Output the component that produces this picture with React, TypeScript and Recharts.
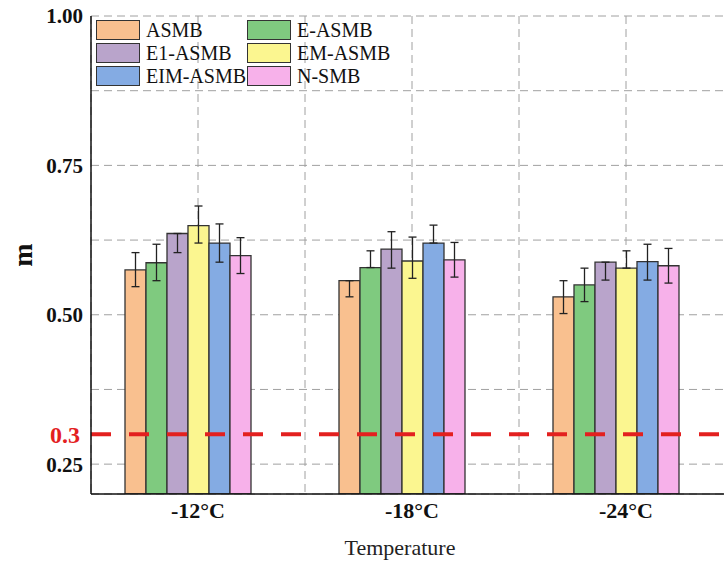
import React from "react";
import {
  BarChart,
  Bar,
  XAxis,
  YAxis,
  CartesianGrid,
  ReferenceLine,
  ErrorBar,
  Legend,
} from "recharts";

const temperatures = ["-12°C", "-18°C", "-24°C"];
const slots = [0.5, 1.5, 2.5];

const seriesNames = ["ASMB", "E-ASMB", "E1-ASMB", "EM-ASMB", "EIM-ASMB", "N-SMB"];
const seriesColors = ["#F9C08F", "#7FCA7F", "#B9A4CB", "#FBF690", "#84ABE3", "#F7B1EA"];

// m values per temperature
const asmb = [0.575, 0.557, 0.53];
const eAsmb = [0.587, 0.579, 0.55];
const e1Asmb = [0.636, 0.61, 0.588];
const emAsmb = [0.649, 0.59, 0.578];
const eimAsmb = [0.62, 0.62, 0.589];
const nSmb = [0.599, 0.592, 0.582];

// error [below, above]
const asmbErr = [[0.028, 0.029], [0.027, 0], [0.028, 0.027]];
const eAsmbErr = [[0.03, 0.031], [0, 0.028], [0.028, 0.028]];
const e1AsmbErr = [[0.032, 0], [0.032, 0.029], [0.03, 0]];
const emAsmbErr = [[0.029, 0.033], [0.029, 0.04], [0, 0.029]];
const eimAsmbErr = [[0.032, 0.032], [0, 0.03], [0.031, 0.029]];
const nSmbErr = [[0.03, 0.03], [0.029, 0.029], [0.029, 0.029]];

const yTicks = [0.25, 0.375, 0.5, 0.625, 0.75, 0.875, 1.0];
const yLabelled = [0.25, 0.5, 0.75, 1.0];
const gridX = [0.5, 1, 1.5, 2, 2.5];
const limit = 0.3;

const values = [asmb, eAsmb, e1Asmb, emAsmb, eimAsmb, nSmb];
const errors = [asmbErr, eAsmbErr, e1AsmbErr, emAsmbErr, eimAsmbErr, nSmbErr];

const data = temperatures.map((temp, i) => {
  const row: any = { temp, slot: slots[i], pad: null };
  seriesNames.forEach((name, s) => {
    row[name] = values[s][i];
    row[name + "_err"] = errors[s][i];
  });
  return row;
});

const serif = "'Liberation Serif', 'Times New Roman', serif";

const LegendBox = () => (
  <div
    style={{
      display: "grid",
      gridTemplateColumns: "151px 140px",
      rowGap: 3,
      fontFamily: serif,
      fontSize: 20,
      color: "#111",
    }}
  >
    {seriesNames.map((name, s) => (
      <div key={name} style={{ display: "flex", alignItems: "center", height: 20, whiteSpace: "nowrap" }}>
        <span
          style={{
            width: 42,
            height: 18,
            background: seriesColors[s],
            border: "1.5px solid #333",
            marginRight: 6,
            display: "inline-block",
            flex: "none",
          }}
        />
        <span style={{ lineHeight: "20px" }}>{name}</span>
      </div>
    ))}
  </div>
);

export default function App() {
  return (
    <div
      style={{
        position: "absolute",
        left: 0,
        top: 0,
        width: 724,
        height: 563,
        overflow: "hidden",
        background: "#fff",
      }}
    >
      <BarChart
        width={745}
        height={563}
        data={data}
        margin={{ top: 16, right: 12, left: 0, bottom: 0 }}
        barGap={0}
      >
        <CartesianGrid vertical={false} stroke="#a0a0a0" strokeDasharray="8 5" />
        <CartesianGrid xAxisId="grid" horizontal={false} stroke="#a0a0a0" strokeDasharray="8 5" />
        <XAxis
          dataKey="temp"
          height={69}
          tickSize={0}
          tickMargin={8}
          axisLine={{ stroke: "#111", strokeWidth: 1.5 }}
          tick={{ fontFamily: serif, fontWeight: "bold", fontSize: 22, fill: "#111" }}
          label={{
            value: "Temperature",
            position: "insideBottom",
            offset: 8,
            dx: -12,
            style: { fontFamily: serif, fontSize: 22, fill: "#222" },
          }}
        />
        <XAxis
          xAxisId="grid"
          dataKey="slot"
          type="number"
          domain={[0, 3]}
          ticks={gridX}
          allowDataOverflow
          hide
        />
        <XAxis
          xAxisId="top"
          dataKey="temp"
          orientation="top"
          height={0}
          tick={false}
          tickLine={false}
          axisLine={{ stroke: "#111", strokeWidth: 1.5 }}
        />
        <YAxis
          width={91}
          domain={[0.2, 1.0]}
          ticks={yTicks}
          allowDataOverflow
          tickSize={0}
          tickMargin={8}
          tickFormatter={(v: number) => (yLabelled.includes(v) ? v.toFixed(2) : "")}
          axisLine={{ stroke: "#111", strokeWidth: 1.5 }}
          tick={{ fontFamily: serif, fontWeight: "bold", fontSize: 21, fill: "#111" }}
          label={{
            value: "m",
            angle: -90,
            position: "insideLeft",
            offset: 22,
            style: { fontFamily: serif, fontWeight: "bold", fontSize: 28, fill: "#111", textAnchor: "middle" },
          }}
        />
        <Legend
          layout="horizontal"
          verticalAlign="middle"
          align="center"
          wrapperStyle={{ left: 96, top: 20, width: 300 }}
          content={<LegendBox />}
        />
        {seriesNames.map((name, s) => (
          <Bar
            key={name}
            dataKey={name}
            name={name}
            fill={seriesColors[s]}
            stroke="#333"
            strokeWidth={1.3}
            barSize={21}
            isAnimationActive={false}
          >
            <ErrorBar dataKey={name + "_err"} width={4} stroke="#222" strokeWidth={1.3} />
          </Bar>
        ))}
        <Bar dataKey="pad" barSize={21} legendType="none" fill="none" isAnimationActive={false} />
        <ReferenceLine
          y={limit}
          stroke="#E3201F"
          strokeWidth={4}
          strokeDasharray="20 18"
          label={{
            value: "0.3",
            position: "left",
            offset: 11,
            style: { fontFamily: serif, fontWeight: "bold", fontSize: 24, fill: "#E3201F" },
          }}
        />
      </BarChart>
    </div>
  );
}
